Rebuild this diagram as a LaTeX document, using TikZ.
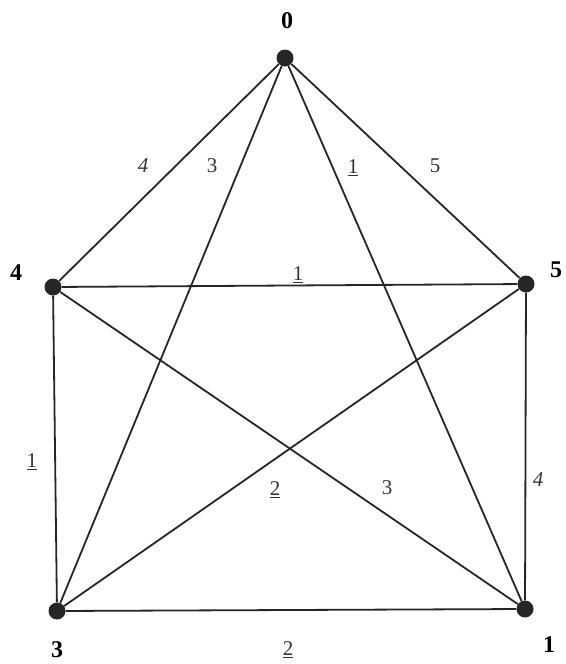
\documentclass[tikz,border=0pt]{standalone}
\usepackage{fontspec}
\setmainfont{Liberation Serif}
\begin{document}
\begin{tikzpicture}[x=1pt,y=-1pt,
  vert/.style={circle,fill=black!85,inner sep=0pt,minimum size=17pt},
  edge/.style={line width=1.8pt,black!85},
  vlab/.style={font=\fontsize{24}{26}\selectfont\bfseries,inner sep=1pt},
  elab/.style={font=\fontsize{21}{24}\selectfont,text=black!80}]
\useasboundingbox (0,0) rectangle (565,664);
\node[vert] (v0) at (285,58) {};
\node[vert] (v4) at (53,287) {};
\node[vert] (v5) at (526,284) {};
\node[vert] (v3) at (57,611) {};
\node[vert] (v1) at (525,609) {};
\node[vlab] (t0) at (287,21) {0};
\node[vlab] (t4) at (16,273) {4};
\node[vlab] (t5) at (556,270) {5};
\node[vlab] (t3) at (57,650) {3};
\node[vlab] (t1) at (549,645) {1};
\draw[edge] (v0) -- (v4);
\draw[edge] (v0) -- (v3);
\draw[edge] (v0) -- (v1);
\draw[edge] (v0) -- (v5);
\draw[edge] (v4) -- (v5);
\draw[edge] (v4) -- (v3);
\draw[edge] (v4) -- (v1);
\draw[edge] (v5) -- (v3);
\draw[edge] (v5) -- (v1);
\draw[edge] (v3) -- (v1);
\node[elab] (l04) at (143,166) {\itshape 4};
\node[elab] (l03) at (212,166) {3};
\node[elab] (l01) at (353,168) {\underline{1}};
\node[elab] (l05) at (435,166) {5};
\node[elab] (l45) at (298,275) {\underline{1}};
\node[elab] (l43) at (32,462) {\underline{1}};
\node[elab] (l53) at (275,490) {\underline{2}};
\node[elab] (l41) at (387,488) {3};
\node[elab] (l51) at (538,480) {\itshape 4};
\node[elab] (l31) at (288,650) {\underline{2}};
\end{tikzpicture}
\end{document}
